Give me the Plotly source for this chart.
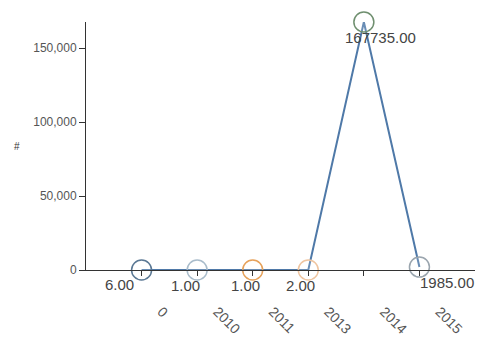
import plotly.graph_objects as go

categories = ["0", "2010", "2011", "2013", "2014", "2015"]
values = [6, 1, 1, 2, 167735, 1985]
labels = [f"{v:.2f}" for v in values]
marker_colors = ["#5a7894", "#a9bccb", "#e6a15a", "#efc5a0", "#6f8f6f", "#9aa5ae"]
label_xshift = [-22, -12, -7, -8, 17, 28]

fig = go.Figure()
fig.add_trace(go.Scatter(
    x=categories, y=values, mode="lines+markers",
    line=dict(color="#4f79a8", width=2),
    marker=dict(size=20, color="rgba(255,255,255,0.15)", line=dict(color=marker_colors, width=1.5)),
    cliponaxis=False, showlegend=False, hoverinfo="skip",
))

annotations = [
    dict(x=i, y=v, text=t, xref="x", yref="y", showarrow=False, xshift=dx, yshift=-15,
         font=dict(family="Liberation Sans, Arial", size=15, color="#444"))
    for i, (v, t, dx) in enumerate(zip(values, labels, label_xshift))
]
annotations.append(dict(text="#", xref="paper", yref="paper", x=-0.19, y=0.5,
                        showarrow=False, font=dict(size=10, color="#333")))

fig.update_layout(
    width=477, height=339,
    margin=dict(l=86, r=2, t=22, b=69),
    plot_bgcolor="white", paper_bgcolor="white",
    font=dict(family="Liberation Sans, Arial", size=12, color="#555"),
    xaxis=dict(
        type="category", range=[-1, 6], showgrid=False, zeroline=False,
        showline=True, linecolor="#333", linewidth=1,
        ticks="outside", ticklen=5, tickcolor="#333",
        tickangle=45, ticklabelstandoff=22, ticklabelshift=20,
        tickfont=dict(size=14, color="#555"), automargin=False,
    ),
    yaxis=dict(
        range=[0, 167735], showgrid=False, zeroline=False,
        showline=True, linecolor="#333", linewidth=1,
        ticks="outside", ticklen=6, tickcolor="#333",
        tickvals=[0, 50000, 100000, 150000], tickformat=",",
        tickfont=dict(size=12, color="#555"), automargin=False,
    ),
    annotations=annotations,
)

fig.write_html("out.html", config={"displayModeBar": False},
               post_script="document.body.style.margin='0';")
